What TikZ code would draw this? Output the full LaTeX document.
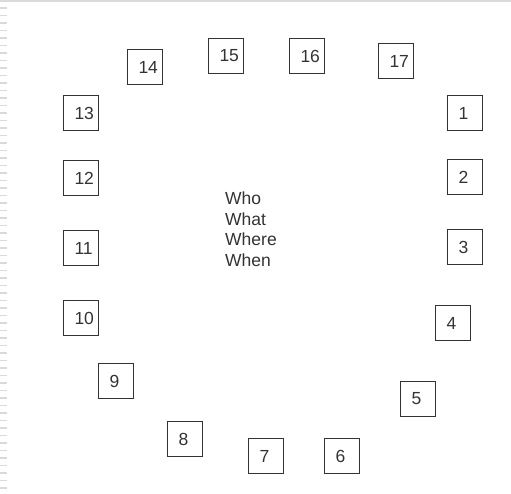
\documentclass[tikz,border=0pt]{standalone}
\usepackage{fontspec}
\setmainfont{Liberation Sans}
\usepackage{tikz}
\usetikzlibrary{positioning}
\definecolor{Ink}{HTML}{333333}
\definecolor{Rule}{HTML}{DADADA}

\begin{document}
\begin{tikzpicture}[
    x=1pt,y=-1pt,
    slot/.style={draw=Ink,line width=1.2pt,minimum width=35pt,minimum height=35pt,
      inner sep=0pt,text width=13pt,align=left,text=Ink,font=\fontsize{17.5}{19}\selectfont},
    note/.style={align=left,inner sep=0pt,text=Ink,font=\fontsize{17.5}{20.5}\selectfont}
  ]
    \useasboundingbox (0,0) rectangle (511,493);
    % page edges
    \draw[Rule,line width=2pt] (0,1) -- (511,1);
    \foreach \y in {8,15.5,...,490}
      \draw[Rule,line width=1.2pt] (0,\y) -- (7,\y);
    % boxes round the clock
    \foreach \n/\px/\py in {1/465/113,2/465/177,3/465/247,4/453/323,5/418/399,
        6/342/456,7/266/456,8/185/439,9/116/381,10/81/318,11/81/248,12/81/178,
        13/81/113,14/145/67,15/226/56,16/307/56,17/396/61}
      \node[slot] (box\n) at (\px,\py) {\rlap{\n}};
    \node[note,anchor=north west] (who) at (225,192) {Who\\What\\Where\\When};
  \end{tikzpicture}
\end{document}
